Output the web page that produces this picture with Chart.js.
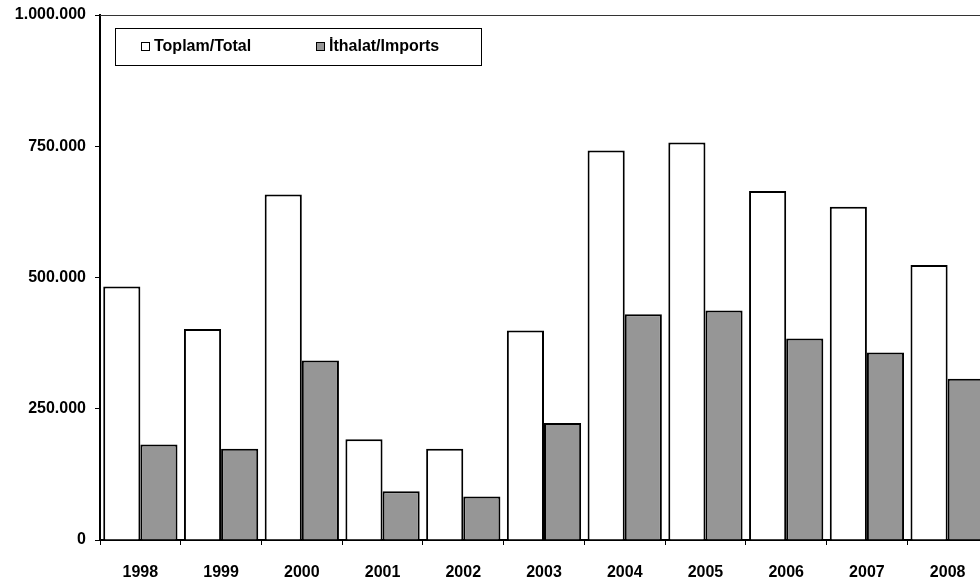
<!DOCTYPE html>
<html>
<head>
<meta charset="utf-8">
<script src="https://cdn.jsdelivr.net/npm/chart.js@4.4.1/dist/chart.umd.min.js"></script>
<style>
  html, body { margin: 0; padding: 0; background: #fff; overflow: hidden; }
  #wrap { position: relative; width: 990px; height: 587px; }
</style>
</head>
<body>
<div id="wrap"><canvas id="chart"></canvas></div>
<script>
const years = ['1998', '1999', '2000', '2001', '2002', '2003', '2004', '2005', '2006', '2007', '2008'];
const totalValues = [483000, 402000, 658000, 192000, 174000, 399000, 742000, 757000, 665000, 635000, 524000];
const importValues = [182000, 174000, 342000, 93000, 83000, 223000, 430000, 437000, 384000, 357000, 307000];
const yTicks = [0, 250000, 500000, 750000, 1000000];

const FONT = 'Arial, "Liberation Sans", sans-serif';

function dotted(v) {
  return String(v).replace(/\B(?=(\d{3})+(?!\d))/g, '.');
}

// frame on top/right of the plot + boxed legend inside the plot
const framePlugin = {
  id: 'frame',
  afterDraw(chart) {
    const { ctx, chartArea: a } = chart;
    ctx.save();
    ctx.strokeStyle = '#333';
    ctx.lineWidth = 1;
    ctx.beginPath();
    ctx.moveTo(a.left, a.top + 0.5);
    ctx.lineTo(a.right, a.top + 0.5);
    ctx.lineTo(a.right, a.bottom);
    ctx.stroke();

    // legend
    ctx.fillStyle = '#fff';
    ctx.fillRect(115.5, 28.5, 366, 37);
    ctx.strokeStyle = '#000';
    ctx.strokeRect(115.5, 28.5, 366, 37);
    const starts = [141, 316];
    ctx.font = 'bold 16px ' + FONT;
    ctx.textBaseline = 'middle';
    chart.data.datasets.forEach((ds, i) => {
      const x = starts[i];
      ctx.fillStyle = ds.backgroundColor;
      ctx.fillRect(x + 0.5, 42.5, 8, 8);
      ctx.strokeStyle = '#000';
      ctx.strokeRect(x + 0.5, 42.5, 8, 8);
      ctx.fillStyle = '#000';
      ctx.fillText(ds.label, x + 13, 47);
    });
    ctx.restore();
  }
};

new Chart(document.getElementById('chart'), {
  type: 'bar',
  data: {
    labels: years,
    datasets: [
      {
        label: 'Toplam/Total',
        data: totalValues,
        backgroundColor: '#ffffff',
        borderColor: '#000000',
        borderWidth: 2,
        borderSkipped: 'bottom'
      },
      {
        label: 'İthalat/Imports',
        data: importValues,
        backgroundColor: '#969696',
        borderColor: '#000000',
        borderWidth: 2,
        borderSkipped: 'bottom'
      }
    ]
  },
  options: {
    responsive: true,
    maintainAspectRatio: false,
    animation: false,
    layout: { padding: { top: 15, right: 2, bottom: 0, left: 0 } },
    datasets: { bar: { categoryPercentage: 0.92, barPercentage: 1.0 } },
    plugins: {
      legend: { display: false },
      tooltip: { enabled: false }
    },
    scales: {
      x: {
        grid: { offset: true, drawOnChartArea: false, drawTicks: true, tickLength: 5, color: '#000', lineWidth: 1 },
        border: { display: true, color: '#000', width: 2 },
        ticks: {
          color: '#000',
          font: { family: FONT, size: 16, weight: 'bold' },
          padding: 18,
          maxRotation: 0
        },
        afterFit(scale) {
          scale.height = 47;
          scale.paddingLeft = 0;
          scale.paddingRight = 0;
        }
      },
      y: {
        min: 0,
        max: 1000000,
        afterBuildTicks(scale) { scale.ticks = yTicks.map(v => ({ value: v })); },
        grid: { drawOnChartArea: false, drawTicks: true, tickLength: 5, color: '#000', lineWidth: 1 },
        border: { display: true, color: '#000', width: 2 },
        ticks: {
          color: '#000',
          font: { family: FONT, size: 16, weight: 'bold' },
          padding: 9,
          callback: v => dotted(v)
        },
        afterFit(scale) {
          scale.width = 100;
          scale.paddingTop = 0;
          scale.paddingBottom = 0;
        }
      }
    }
  },
  plugins: [framePlugin]
});
</script>
</body>
</html>
